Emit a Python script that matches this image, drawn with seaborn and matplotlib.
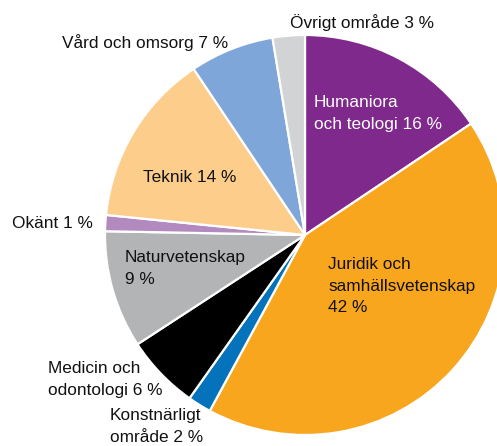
import matplotlib
matplotlib.use("Agg")
import matplotlib.pyplot as plt
import seaborn as sns

sns.set_theme(style="white")
plt.rcParams['font.family'] = ['Liberation Sans', 'DejaVu Sans']

categories = ["Humaniora\noch teologi 16 %", "Juridik och\nsamhällsvetenskap\n42 %",
              "Konstnärligt\nområde 2 %", "Medicin och\nodontologi 6 %",
              "Naturvetenskap\n9 %", "Okänt 1 %", "Teknik 14 %",
              "Vård och omsorg 7 %", "Övrigt område 3 %"]
# wedge shares (labels show rounded values)
values = [15.6, 42.3, 1.9, 6.0, 9.5, 1.3, 14.0, 6.8, 2.6]
colors = ["#80298C", "#F9A61F", "#0473BC", "#000000", "#B2B4B6",
          "#B28AC0", "#FDCD8C", "#7EA6D8", "#D2D3D5"]
text_colors = ["white", "#111111", "#111111", "#111111", "#111111",
               "#111111", "#111111", "#111111", "#111111"]
# label anchor (pixel coords: left x, first-line baseline y)
label_pos = [(314, 107), (328, 269), (110, 420),
             (48, 373), (125, 262), (12, 228),
             (143, 182), (62, 48), (290, 28)]

W, H = 497, 446
CX, CY, R = 305, 235, 200

fig = plt.figure(figsize=(W / 100, H / 100), dpi=100)
ax = fig.add_axes([0, 0, 1, 1])
ax.pie(values, colors=colors, startangle=90, counterclock=False,
       radius=1.0, wedgeprops=dict(edgecolor="white", linewidth=1.6))
ax.set_xlim(-CX / R, (W - CX) / R)
ax.set_ylim(-(H - CY) / R, CY / R)
ax.set_aspect('auto')
ax.axis('off')

def px(x, y):
    return (x - CX) / R, (CY - y) / R

for lab, (x, y), tc in zip(categories, label_pos, text_colors):
    for i, line in enumerate(lab.split("\n")):
        dx, dy = px(x, y + i * 21.5)
        ax.text(dx, dy, line, ha='left', va='baseline', fontsize=12.4, color=tc)

fig.savefig("out.png", dpi=100)
